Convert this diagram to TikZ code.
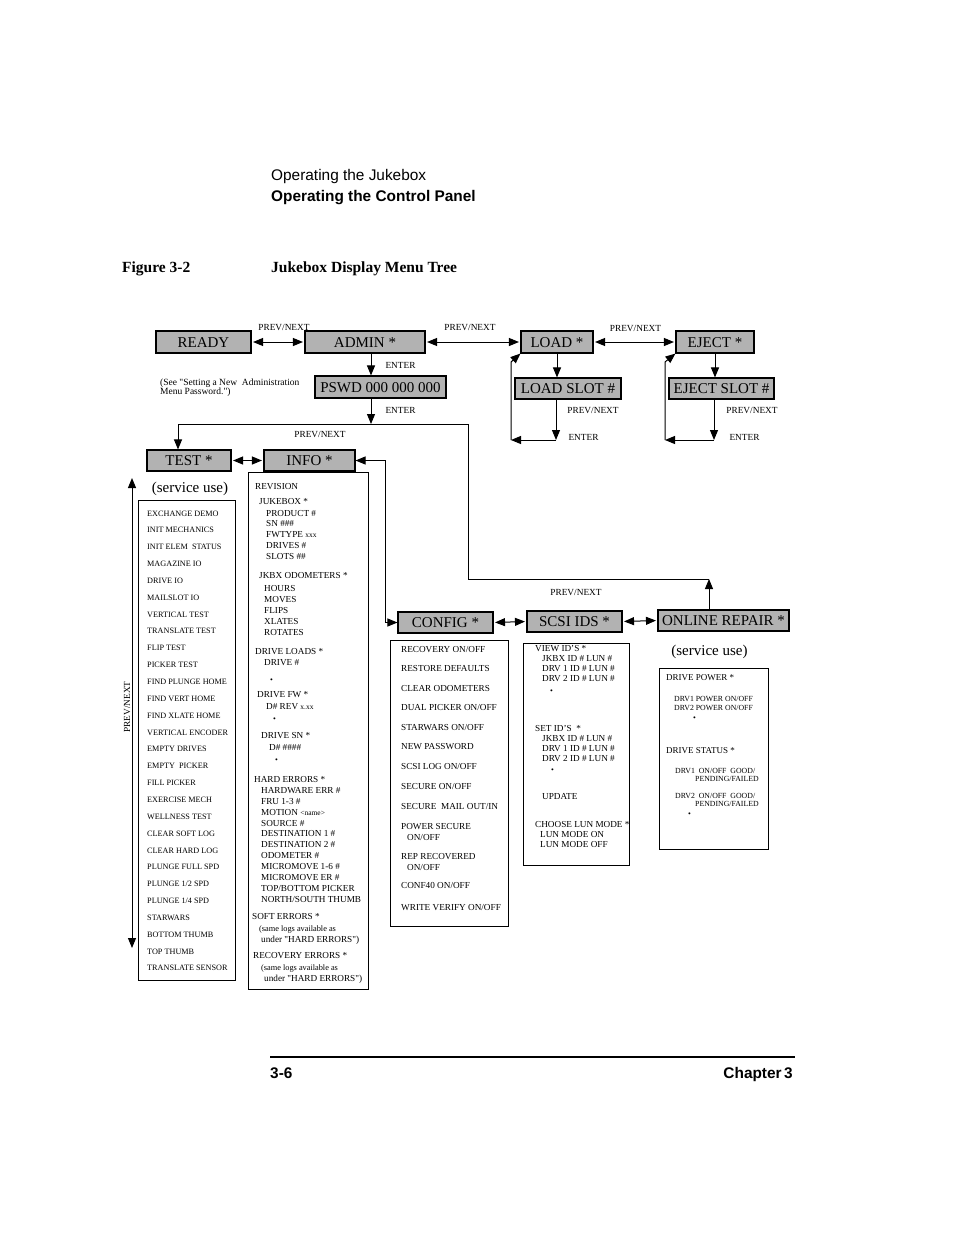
\documentclass[tikz,border=0pt]{standalone}
\usepackage{fontspec}
\setmainfont{Liberation Serif}
\newfontfamily\hsans{Liberation Sans}
\usetikzlibrary{arrows.meta,calc}
\newcommand\fsz[1]{\fontsize{#1}{#1}\selectfont}
\newcommand\dotmark{{\fsz{8}\textbullet}}
\begin{document}
\begin{tikzpicture}[x=1pt,y=-1pt,
 gbox/.style={draw=black,line width=1.1pt,fill=black!30,inner sep=0pt,font=\fsz{15},text height=10pt,text depth=0pt},
 lbox/.style={draw=black,line width=0.9pt,inner sep=0pt},
 it/.style={anchor=west,inner sep=0pt,text height=6pt,text depth=0pt,font=\fsz{#1}},
 lab/.style={inner sep=0pt,font=\fsz{9.3},text height=6.2pt,text depth=0pt},
 hd/.style={anchor=base west,inner sep=0pt},
 con/.style={line width=1pt},
 arr/.style={con,-{Triangle[length=10pt,width=8pt]}},
 dbl/.style={con,{Triangle[length=10pt,width=8pt]}-{Triangle[length=10pt,width=8pt]}},
]
\fill[white] (0,0) rectangle (954,1235);
\useasboundingbox (0,0) rectangle (954,1235);

% header
\node[hd,font=\hsans\fsz{15.4}] (h1) at (271,180) {Operating the Jukebox};
\node[hd,font=\hsans\bfseries\fsz{15.4}] (h2) at (271,201) {Operating the Control Panel};
\node[hd,font=\bfseries\fsz{15.5}] (fig) at (122,272) {Figure 3-2};
\node[hd,font=\bfseries\fsz{15.5}] (title) at (271,272) {Jukebox Display Menu Tree};
% footer
\draw[line width=2pt] (270,1057) -- (795,1057);
\node[hd,font=\hsans\bfseries\fsz{15.4}] (pg) at (270,1078) {3-6};
\node[anchor=base east,inner sep=0pt,font=\hsans\bfseries\fsz{15.4}] (ch) at (793,1078) {Chapter\,3};

% gray menu boxes
\node[gbox,minimum width=95,minimum height=22] (ready) at (203.5,342) {READY};
\node[gbox,minimum width=120,minimum height=22] (admin) at (365,342) {ADMIN *};
\node[gbox,minimum width=72,minimum height=22] (load) at (557,342) {LOAD *};
\node[gbox,minimum width=78,minimum height=22] (eject) at (715,342) {EJECT *};
\node[gbox,minimum width=131,minimum height=22] (pswd) at (380.5,387) {PSWD 000 000 000};
\node[gbox,minimum width=106,minimum height=21] (lslot) at (568,388.5) {LOAD SLOT \#};
\node[gbox,minimum width=105,minimum height=21] (eslot) at (721.5,388.5) {EJECT SLOT \#};
\node[gbox,minimum width=84,minimum height=21] (test) at (189,460.5) {TEST *};
\node[gbox,minimum width=91,minimum height=21] (info) at (309.5,460.5) {INFO *};
\node[gbox,minimum width=95,minimum height=21] (config) at (445.5,622.5) {CONFIG *};
\node[gbox,minimum width=95,minimum height=21] (scsi) at (574.5,621.5) {SCSI IDS *};
\node[gbox,minimum width=131,minimum height=21] (online) at (723.5,620.5) {ONLINE REPAIR *};

% list boxes
\node[lbox,minimum width=97,minimum height=480] (testl) at (186.5,740) {};
\node[lbox,minimum width=120,minimum height=517] (infol) at (308,730.5) {};
\node[lbox,minimum width=118,minimum height=286] (confl) at (449,783) {};
\node[lbox,minimum width=106,minimum height=222] (scsil) at (576,754) {};
\node[lbox,minimum width=109,minimum height=181] (onl) at (713.5,758.5) {};

% labels
\node[lab] (pn1) at (284,327) {PREV/NEXT};
\node[lab] (pn2) at (470,327) {PREV/NEXT};
\node[lab] (pn3) at (635.5,328) {PREV/NEXT};
\node[lab] (en1) at (400.5,365) {ENTER};
\node[lab] (en2) at (400.5,410) {ENTER};
\node[lab] (pn4) at (593,410) {PREV/NEXT};
\node[lab] (en3) at (583.5,437) {ENTER};
\node[lab] (pn5) at (752,410) {PREV/NEXT};
\node[lab] (en4) at (744.5,437) {ENTER};
\node[lab] (pn6) at (320,434) {PREV/NEXT};
\node[lab] (pn7) at (576,592) {PREV/NEXT};
\node[lab,rotate=90] (pn8) at (127,707) {PREV/NEXT};
\node[anchor=west,inner sep=0pt,font=\fsz{9.5},align=left] (note) at (160,387.5) {(See \textquotedbl Setting a New\ \ Administration\\[-1pt]Menu Password.\textquotedbl)};
\node[inner sep=0pt,font=\fsz{15},text height=10pt,text depth=2pt] (svc1) at (190,488) {(service use)};
\node[inner sep=0pt,font=\fsz{15},text height=10pt,text depth=2pt] (svc2) at (709.5,651) {(service use)};

% connectors top row
\draw[dbl,shorten <=1.5pt,shorten >=1.5pt] (ready.east) -- (admin.west);
\draw[dbl,shorten <=1.5pt,shorten >=1.5pt] (admin.east) -- (load.west);
\draw[dbl,shorten <=1.5pt,shorten >=1.5pt] (load.east) -- (eject.west);
\draw[arr] ([xshift=6pt]admin.south) -- ([xshift=6pt]admin.south |- pswd.north);
\coordinate (j1) at (371,424);
\coordinate (jl) at (178,424);
\coordinate (jr) at (468,424);
\coordinate (jb) at (468,579);
\coordinate (jc) at (709,579);
\draw[arr] ([xshift=-9.5pt]pswd.south) -- (j1);
\draw[con] (jl) -- (jr) -- (jb) -- (jc);
\draw[arr] (jl) -- (jl |- test.north);
\draw[arr] (jc |- online.north) -- (jc);
% load loop
\draw[arr] (load.south) -- (load.south |- lslot.north);
\coordinate (lb) at (556,440);
\coordinate (ll) at (511,440);
\coordinate (lt) at (511,362);
\draw[arr] ([xshift=-12pt]lslot.south) -- (lb);
\draw[arr] (lb) -- (ll);
\draw[arr] (ll) -- (lt) -- (load.south west);
% eject loop
\draw[arr] (eject.south) -- (eject.south |- eslot.north);
\coordinate (eb) at (714,440);
\coordinate (el) at (665,440);
\coordinate (et) at (665,362);
\draw[arr] ([xshift=-7.5pt]eslot.south) -- (eb);
\draw[arr] (eb) -- (el);
\draw[arr] (el) -- (et) -- (eject.south west);
% second level
\draw[dbl,shorten <=1.5pt,shorten >=1.5pt] (test.east) -- (info.west);
\coordinate (k) at (385,540);
\draw[dbl] (info.east) -- (info.east -| k) -- (config.west -| k) -- (config.west);
\draw[dbl,shorten <=1.5pt,shorten >=1.5pt] (config.east) -- (scsi.west);
\draw[dbl,shorten <=1.5pt,shorten >=1.5pt] (scsi.east) -- (online.west);
\coordinate (pt) at (132,478);
\coordinate (pb) at (132,948);
\draw[dbl] (pt) -- (pb);

% test list
\foreach \t [count=\i] in {EXCHANGE DEMO,INIT MECHANICS,INIT ELEM\ \ STATUS,MAGAZINE IO,DRIVE IO,MAILSLOT IO,VERTICAL TEST,TRANSLATE TEST,FLIP TEST,PICKER TEST,FIND PLUNGE HOME,FIND VERT HOME,FIND XLATE HOME,VERTICAL ENCODER,EMPTY DRIVES,EMPTY\ \ PICKER,FILL PICKER,EXERCISE MECH,WELLNESS TEST,CLEAR SOFT LOG,CLEAR HARD LOG,PLUNGE FULL SPD,PLUNGE 1/2 SPD,PLUNGE 1/4 SPD,STARWARS,BOTTOM THUMB,TOP THUMB,TRANSLATE SENSOR}
  \node[it=8.2] (tst\i) at (147,{496.15+16.85*\i}) {\t};

% info list
\foreach \x/\y/\t [count=\i] in {
255/486/{REVISION},259/501/{JUKEBOX *},266/513/{PRODUCT \#},266/523/{SN \#\#\#},
266/534/{FWTYPE {\fsz{7.5}xxx}},266/545/{DRIVES \#},266/556/{SLOTS \#\#},
259/575/{JKBX ODOMETERS *},264/588/{HOURS},264/599/{MOVES},264/610/{FLIPS},
264/621/{XLATES},264/632/{ROTATES},255/651/{DRIVE LOADS *},264/662/{DRIVE \#},
270/679/{\dotmark},257/694/{DRIVE FW *},266/706/{D\# REV {\fsz{7.5}x.xx}},
273/718/{\dotmark},261/735/{DRIVE SN *},269/747/{D\# \#\#\#\#},
275/759/{\dotmark},254/779/{HARD ERRORS *},261/790/{HARDWARE ERR \#},
261/801/{FRU 1-3 \#},261/812/{MOTION {\fsz{7.5}\textless name\textgreater}},
261/823/{SOURCE \#},261/833/{DESTINATION 1 \#},261/844/{DESTINATION 2 \#},
261/855/{ODOMETER \#},261/866/{MICROMOVE 1-6 \#},261/877/{MICROMOVE ER \#},
261/888/{TOP/BOTTOM PICKER},261/899/{NORTH/SOUTH THUMB},252/916/{SOFT ERRORS *},
259/928/{{\fsz{8.3}(same logs available as}},261/939/{under \textquotedbl HARD ERRORS\textquotedbl)},
253/955/{RECOVERY ERRORS *},261/967/{{\fsz{8.3}(same logs available as}},
264/978/{under \textquotedbl HARD ERRORS\textquotedbl)}}
  \node[it=9.2] (inf\i) at (\x,\y) {\t};

% config list
\foreach \x/\y/\t [count=\i] in {
401/649/{RECOVERY ON/OFF},401/668/{RESTORE DEFAULTS},401/688/{CLEAR ODOMETERS},
401/707/{DUAL PICKER ON/OFF},401/727/{STARWARS ON/OFF},401/746/{NEW PASSWORD},
401/766/{SCSI LOG ON/OFF},401/786/{SECURE ON/OFF},401/806/{SECURE\ \ MAIL OUT/IN},
401/826/{POWER SECURE},407/837/{ON/OFF},401/856/{REP RECOVERED},407/867/{ON/OFF},
401/885/{CONF40 ON/OFF},401/907/{WRITE VERIFY ON/OFF}}
  \node[it=9.2] (cfg\i) at (\x,\y) {\t};

% scsi list
\foreach \x/\y/\t [count=\i] in {
535/648/{VIEW ID'S *},542/658/{JKBX ID \# LUN \#},542/668/{DRV 1 ID \# LUN \#},
542/678/{DRV 2 ID \# LUN \#},550/690/{\dotmark},535/728/{SET ID'S\ \ *},
542/738/{JKBX ID \# LUN \#},542/748/{DRV 1 ID \# LUN \#},542/758/{DRV 2 ID \# LUN \#},
551/769/{\dotmark},542/796/{UPDATE},535/824/{CHOOSE LUN MODE *},
540/834/{LUN MODE ON},540/844/{LUN MODE OFF}}
  \node[it=9.2] (scl\i) at (\x,\y) {\t};

% online repair list
\foreach \x/\y/\s/\t [count=\i] in {
666/677/9/{DRIVE POWER *},674/698/7.8/{DRV1 POWER ON/OFF},674/707/7.8/{DRV2 POWER ON/OFF},
693/717/8/{\textbullet},666/750/9/{DRIVE STATUS *},675/770/7.8/{DRV1\ \ ON/OFF\ \ GOOD/},
695/778/7.8/{PENDING/FAILED},675/795/7.8/{DRV2\ \ ON/OFF\ \ GOOD/},
695/803/7.8/{PENDING/FAILED},688/813/8/{\textbullet}}
  \node[it=\s] (onr\i) at (\x,\y) {\t};
\end{tikzpicture}
\end{document}
